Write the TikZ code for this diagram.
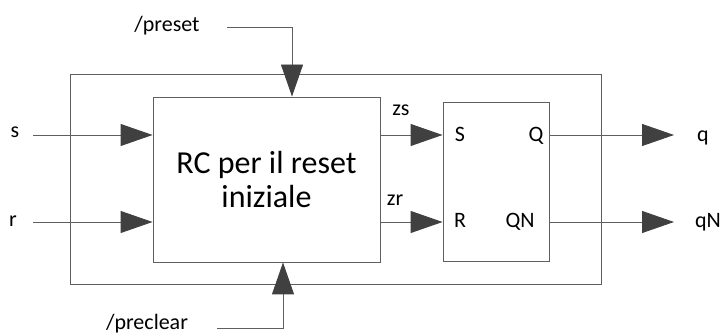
\documentclass[tikz,border=0pt]{standalone}
\usepackage{fontspec}
\setmainfont{Carlito}
\usetikzlibrary{arrows.meta}
\definecolor{lncol}{RGB}{95,95,95}
\definecolor{arcol}{RGB}{64,64,64}
\tikzset{
  wire/.style={draw=lncol, line width=0.9pt},
  sig/.style={wire, -{Triangle[length=32pt,width=22pt,fill=arcol,color=arcol]}},
  blk/.style={draw=lncol, line width=0.9pt, rectangle, inner sep=0pt},
  lbl/.style={inner sep=0pt, anchor=base, font=\fontsize{22}{26}\selectfont},
}
\begin{document}
\begin{tikzpicture}[x=1pt,y=-1pt]
\useasboundingbox (0,0) rectangle (723,336);
% outer frame
\node[blk, minimum width=531pt, minimum height=210pt] (outer) at (335.5,179) {};
% main block
\node[blk, fill=white, minimum width=227pt, minimum height=165pt, align=center,
      font=\fontsize{32}{34}\selectfont] (rc) at (266.5,179.5) {RC per il reset\\iniziale};
% flip-flop
\node[blk, fill=white, minimum width=106pt, minimum height=159pt] (ff) at (496,181.5) {};
% labels
\node[lbl] (ls) at (15,138) {s};
\node[lbl] (lr) at (13,227) {r};
\node[lbl] (lpre) at (167,32) {/preset};
\node[lbl] (lclr) at (147,330) {/preclear};
\node[lbl] (lzs) at (401,116) {zs};
\node[lbl] (lzr) at (395,206) {zr};
\node[lbl] (lS) at (460,142) {S};
\node[lbl] (lQ) at (536,142) {Q};
\node[lbl] (lR) at (460,228) {R};
\node[lbl] (lQN) at (520,228) {QN};
\node[lbl] (lq) at (703,142) {q};
\node[lbl] (lqN) at (708,228) {qN};
% free ends
\coordinate (sin) at (33,135);
\coordinate (rin) at (33,222);
\coordinate (prein) at (227,27);
\coordinate (prebend) at (292,27);
\coordinate (clrin) at (217,328);
\coordinate (clrbend) at (283,328);
\coordinate (qout) at (674,135);
\coordinate (qnout) at (674,222);
% connectors
\draw[sig] (sin) -- (sin -| rc.west);
\draw[sig] (rin) -- (rin -| rc.west);
\draw[sig] (prein) -- (prebend) -- (prebend |- rc.north);
\draw[sig] (clrin) -- (clrbend) -- (clrbend |- rc.south);
\draw[sig] (sin -| rc.east) -- (sin -| ff.west);
\draw[sig] (rin -| rc.east) -- (rin -| ff.west);
\draw[sig] (sin -| ff.east) -- (qout);
\draw[sig] (rin -| ff.east) -- (qnout);
\end{tikzpicture}
\end{document}
